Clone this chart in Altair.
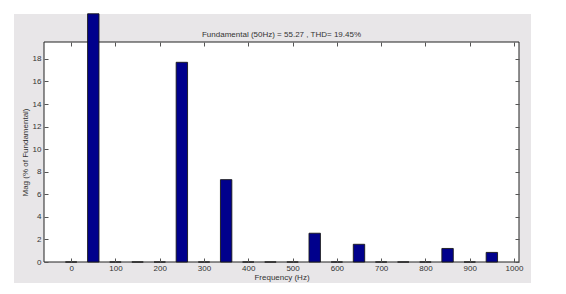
import altair as alt
import pandas as pd

# Harmonic spectrum (frequency in Hz, magnitude in % of fundamental)
freqs = [0, 50, 100, 150, 200, 250, 300, 350, 400, 450,
         500, 550, 600, 650, 700, 750, 800, 850, 900, 950]
mags = [0, 100, 0, 0, 0, 17.7, 0, 7.3, 0, 0,
        0, 2.55, 0, 1.57, 0, 0, 0, 1.2, 0, 0.85]
x_ticks = [0, 100, 200, 300, 400, 500, 600, 700, 800, 900, 1000]
y_ticks = [0, 2, 4, 6, 8, 10, 12, 14, 16, 18]
title_text = "Fundamental (50Hz) = 55.27 , THD= 19.45%"

W, H = 475, 220
FONT = "Liberation Sans"
TXT = "#333333"
TICK = "#555555"
X_DOMAIN = [-50, 1000]
Y_DOMAIN = [0, 19.5]
Y_CAP = 22.0  # top of the figure frame, where the fundamental bar is cut

df = pd.DataFrame({"freq": freqs, "mag": mags})
one = pd.DataFrame({"k": [0]})

xs = alt.Scale(domain=X_DOMAIN, nice=False, zero=False)
ys = alt.Scale(domain=Y_DOMAIN, nice=False, zero=False)

common_axis = dict(grid=False, domain=False, offset=-4, tickSize=4,
                   tickColor=TICK, tickWidth=1, zindex=1, format="d",
                   labelFont=FONT, labelFontSize=8, labelColor=TXT,
                   titleFont=FONT, titleFontSize=8, titleFontWeight="normal",
                   titleColor=TXT, labelFlush=False, labelOverlap=False)

gray = alt.Chart(one).mark_rect(color="#e8e6e8").encode(
    x=alt.value(-30), x2=alt.value(W + 12),
    y=alt.value(-28), y2=alt.value(H + 21))

white = alt.Chart(one).mark_rect(color="white").encode(
    x=alt.value(0), x2=alt.value(W), y=alt.value(0), y2=alt.value(H))

border = alt.Chart(one).mark_rect(fillOpacity=0, stroke="#222222", strokeWidth=1).encode(
    x=alt.value(0), x2=alt.value(W), y=alt.value(0), y2=alt.value(H))

base = alt.Chart(df).transform_calculate(plotmag=f"min(datum.mag, {Y_CAP})")

bars = base.mark_bar(size=11.4, color="#00008c", stroke="#1a1a1a",
                     strokeWidth=0.9, clip=False).encode(
    x=alt.X("freq:Q", scale=xs,
            axis=alt.Axis(orient="bottom", values=x_ticks, labelPadding=2,
                          title="Frequency (Hz)", titlePadding=1, **common_axis)),
    y=alt.Y("plotmag:Q", scale=ys,
            axis=alt.Axis(orient="left", values=y_ticks, labelPadding=3,
                          title="Mag (% of Fundamental)", titlePadding=3, **common_axis)),
)

ghost = base.mark_point(opacity=0, clip=True).encode(
    x=alt.X("freq:Q", scale=xs,
            axis=alt.Axis(orient="top", values=x_ticks, labels=False, title="",
                          **common_axis)),
    y=alt.Y("plotmag:Q", scale=ys,
            axis=alt.Axis(orient="right", values=y_ticks, labels=False, title="",
                          **common_axis)),
)

chart = alt.layer(gray, white, border, bars, ghost).properties(
    width=W, height=H,
    title=alt.TitleParams(title_text, font=FONT, fontSize=8, fontWeight="normal",
                          color=TXT, anchor="middle", frame="group",
                          baseline="bottom", offset=-34),
    background="white",
    padding={"left": 44, "top": 42, "right": 566 - 44 - W, "bottom": 294 - 42 - H},
    autosize=alt.AutoSizeParams(type="none"),
).configure_view(stroke=None)

chart.save("out.html", embed_options={"renderer": "svg", "actions": False})
